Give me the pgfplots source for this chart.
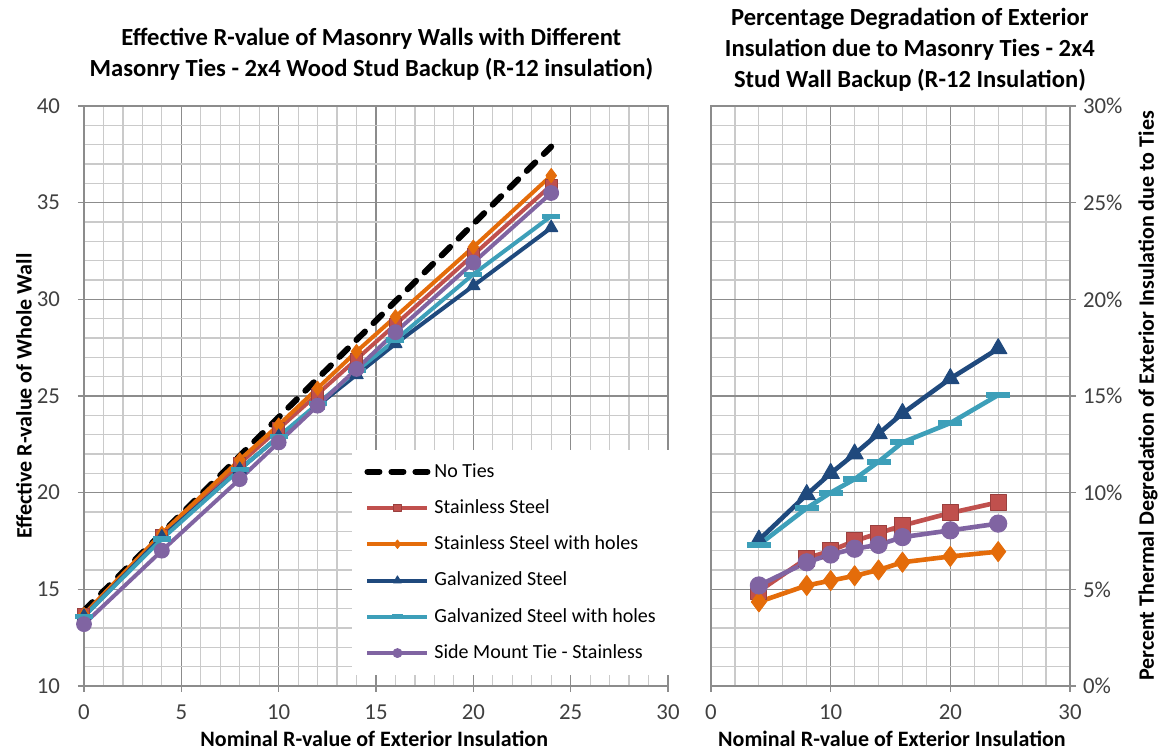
\documentclass[border=0pt]{standalone}
\usepackage{fontspec}
\setmainfont{Carlito}
\usepackage{pgfplots}
\pgfplotsset{compat=1.18}
\definecolor{cred}{HTML}{C0504D}
\definecolor{corange}{HTML}{E46C0A}
\definecolor{cblue}{HTML}{1F497D}
\definecolor{ccyan}{HTML}{3D9FB9}
\definecolor{cpurple}{HTML}{8064A2}
\definecolor{majgrid}{HTML}{8C8C8C}
\definecolor{mingrid}{HTML}{CACACA}
\definecolor{ticktext}{HTML}{404040}
\pgfplotsset{
  base/.style={
    scale only axis, height=290pt, clip=false,
    grid=both,
    major grid style={majgrid, line width=0.6pt},
    minor grid style={mingrid, line width=0.6pt},
    axis line style={majgrid, line width=0.6pt},
    tick style={majgrid, line width=0.6pt},
    tick align=outside, major tick length=3pt, minor tick length=0pt,
    ticklabel style={font=\fontsize{11.4}{13}\selectfont, text=ticktext},
    xticklabel style={yshift=-3pt},
    /pgf/number format/assume math mode=true,
    label style={font=\bfseries\fontsize{11}{13}\selectfont},
    title style={font=\bfseries\fontsize{12.3}{15.5}\selectfont, align=center, inner sep=0pt, anchor=south},
    xtick pos=bottom,
    every axis plot/.append style={line width=2pt, line join=round},
  },
}
\begin{document}
\begin{tikzpicture}
\begin{axis}[base, at={(0,0)}, anchor=south west, width=292pt,
  xmin=0, xmax=30, ymin=10, ymax=40,
  xtick={0,5,...,30}, ytick={10,15,...,40},
  minor x tick num=4, minor y tick num=4,
  ytick pos=left,
  yticklabel style={xshift=-5.5pt},
  title={Effective R-value of Masonry Walls with Different\\Masonry Ties - 2x4 Wood Stud Backup (R-12 insulation)},
  title style={at={(axis description cs:0.492,1)}, yshift=6.5pt},
  xlabel={Nominal R-value of Exterior Insulation},
  ylabel={Effective R-value of Whole Wall},
  xlabel style={at={(axis description cs:0.497,0)}, anchor=center, yshift=-26.5pt},
  ylabel style={at={(axis description cs:-0.1027,0.5)}, anchor=center},
  legend style={at={(axis description cs:0.459,0.407)}, anchor=north west, draw=none, fill=white,
    font=\fontsize{10}{12}\selectfont, row sep=5.7pt, inner xsep=6pt, inner ysep=4.5pt},
  legend cell align=left,
  legend image code/.code={\draw[mark repeat=2,mark phase=2,#1, every mark/.append style={scale=0.6}] plot coordinates {(0pt,0pt) (15pt,0pt) (30pt,0pt)};},
]
\addplot[black, line width=3pt, line cap=round, dash pattern=on 6pt off 6pt] coordinates {
 (0,13.9) (4,17.9) (8,21.9) (10,23.9) (12,25.9) (14,27.9) (16,29.9) (20,33.9) (24,37.9)};
\addlegendentry{No Ties}
\addplot[cred, mark=square*, mark size=3pt, mark options={fill=cred, draw=cred!80!black, line width=0.5pt}] coordinates {
 (0,13.7) (4,17.8) (8,21.5) (10,23.3) (12,25.1) (14,26.9) (16,28.7) (20,32.3) (24,35.9)};
\addlegendentry{Stainless Steel}
\addplot[corange, mark=diamond*, mark size=3.5pt, mark options={fill=corange, draw=corange, line width=0.5pt}] coordinates {
 (0,13.7) (4,17.9) (8,21.7) (10,23.5) (12,25.4) (14,27.3) (16,29.1) (20,32.7) (24,36.4)};
\addlegendentry{Stainless Steel with holes}
\addplot[cblue, mark=triangle*, mark size=3.8pt, mark options={fill=cblue, draw=cblue, line width=0.5pt}] coordinates {
 (0,13.6) (4,17.7) (8,21.2) (10,22.9) (12,24.5) (14,26.1) (16,27.7) (20,30.7) (24,33.7)};
\addlegendentry{Galvanized Steel}
\addplot[ccyan, mark=-, mark size=4.5pt, mark options={draw=ccyan, line width=2.6pt}] coordinates {
 (0,13.6) (4,17.6) (8,21.2) (10,22.9) (12,24.6) (14,26.3) (16,27.9) (20,31.3) (24,34.3)};
\addlegendentry{Galvanized Steel with holes}
\addplot[cpurple, mark=*, mark size=3.7pt, mark options={fill=cpurple, draw=cpurple, line width=0.5pt}] coordinates {
 (0,13.2) (4,17.0) (8,20.7) (10,22.6) (12,24.5) (14,26.4) (16,28.3) (20,31.9) (24,35.5)};
\addlegendentry{Side Mount Tie - Stainless}
\end{axis}

\begin{axis}[base, at={(313.5pt,0)}, anchor=south west, width=179.5pt,
  xmin=0, xmax=30, ymin=0, ymax=30,
  xtick={0,10,20,30}, ytick={0,5,...,30},
  minor x tick num=4, minor y tick num=4,
  ytick pos=right, yticklabel pos=right,
  yticklabel={\pgfmathprintnumber{\tick}\%},
  title={Percentage Degradation of Exterior\\Insulation due to Masonry Ties - 2x4\\Stud Wall Backup (R-12 Insulation)},
  title style={at={(axis description cs:0.554,1)}, yshift=1pt},
  xlabel={Nominal R-value of Exterior Insulation},
  ylabel={Percent Thermal Degredation of Exterior Insulation due to Ties},
  xlabel style={at={(axis description cs:0.504,0)}, anchor=center, yshift=-26.5pt},
  ylabel style={at={(axis description cs:1.2173,0.5)}, anchor=center},
  every axis plot/.append style={line width=2.3pt},
]
\addplot[cred, mark=square*, mark size=4pt, mark options={fill=cred, draw=cred!80!black, line width=0.5pt}] coordinates {
 (4,4.9) (8,6.6) (10,7.0) (12,7.5) (14,7.9) (16,8.3) (20,8.95) (24,9.5)};
\addplot[corange, mark=diamond*, mark size=5pt, mark options={fill=corange, draw=corange, line width=0.5pt}] coordinates {
 (4,4.35) (8,5.2) (10,5.45) (12,5.7) (14,6.0) (16,6.4) (20,6.7) (24,6.95)};
\addplot[cblue, mark=triangle*, mark size=5pt, mark options={fill=cblue, draw=cblue, line width=0.5pt}] coordinates {
 (4,7.55) (8,9.9) (10,11.0) (12,12.0) (14,13.05) (16,14.1) (20,15.9) (24,17.45)};
\addplot[ccyan, mark=-, mark size=6pt, mark options={draw=ccyan, line width=3pt}] coordinates {
 (4,7.3) (8,9.2) (10,10.0) (12,10.7) (14,11.6) (16,12.6) (20,13.6) (24,15.05)};
\addplot[cpurple, mark=*, mark size=4.3pt, mark options={fill=cpurple, draw=cpurple, line width=0.5pt}] coordinates {
 (4,5.2) (8,6.4) (10,6.8) (12,7.1) (14,7.3) (16,7.7) (20,8.05) (24,8.4)};
\end{axis}
\pgfresetboundingbox
\path (-42pt,-32pt) rectangle (537pt,343pt);
\end{tikzpicture}
\end{document}
